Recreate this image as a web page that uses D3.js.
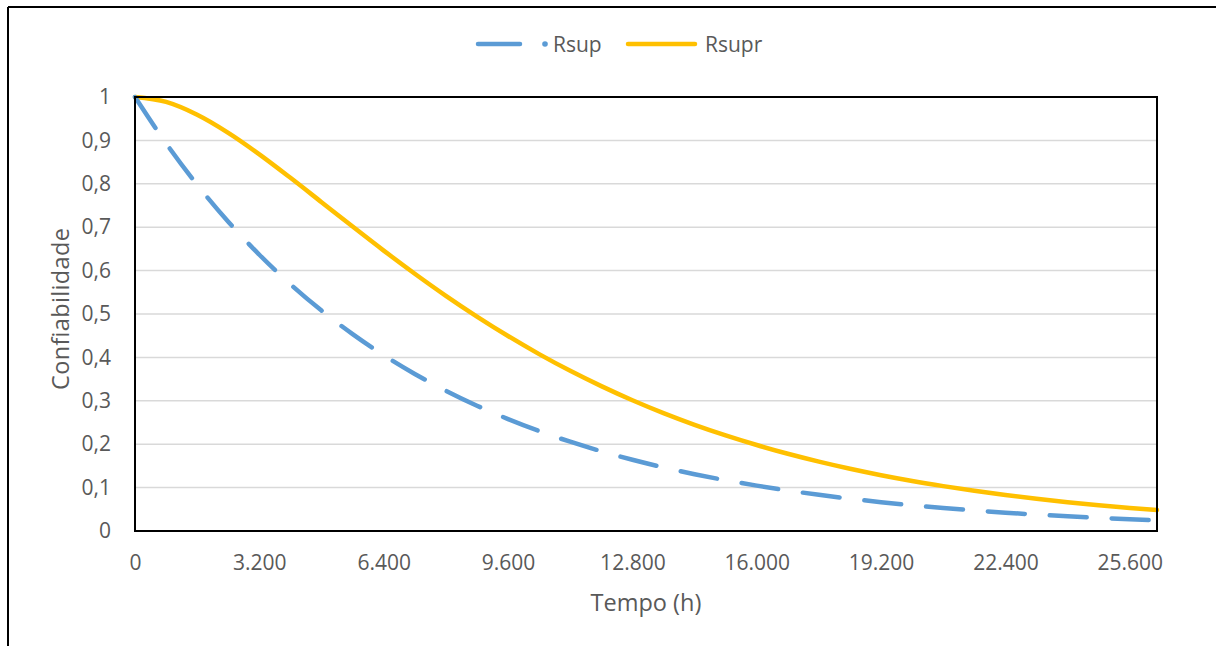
<!DOCTYPE html>
<html><head><meta charset="utf-8">
<script src="https://cdn.jsdelivr.net/npm/d3@7"></script>
<style>
body{margin:0;background:#fff;}
svg{display:block;font-family:"Open Sans",sans-serif;}
</style></head>
<body><svg id="c" width="1216" height="646"></svg>
<script>
const hours = [0,800,1600,2400,3200,4000,4800,5600,6400,7200,8000,8800,9600,10400,11200,12000,12800,13600,14400,15200,16000,16800,17600,18400,19200,20000,20800,21600,22400,23200,24000,24800,25600,26300];
const rsup = [1,0.8932,0.7978,0.7126,0.6365,0.5685,0.5078,0.4536,0.4051,0.3619,0.3232,0.2887,0.2579,0.2303,0.2057,0.1838,0.1641,0.1466,0.1309,0.1170,0.1045,0.0933,0.0834,0.0745,0.0665,0.0594,0.0531,0.0474,0.0423,0.0378,0.0338,0.0302,0.0269,0.0244];
const rsupr = [1,0.9886,0.9591,0.9174,0.8679,0.8138,0.7577,0.7014,0.6461,0.5928,0.5419,0.4941,0.4493,0.4076,0.3691,0.3338,0.3013,0.2717,0.2447,0.2203,0.1981,0.1779,0.1598,0.1434,0.1286,0.1153,0.1034,0.0926,0.0828,0.0742,0.0665,0.0595,0.0531,0.0482];
const xTicks = [0,3200,6400,9600,12800,16000,19200,22400,25600];
const yTicks = [0,0.1,0.2,0.3,0.4,0.5,0.6,0.7,0.8,0.9,1];
const seriesNames = ["Rsup","Rsupr"];
const colors = ["#5b9bd5","#ffc000"];

const svg = d3.select("#c");
// outer chart border (top and left visible)
svg.append("line").attr("x1",8).attr("x2",1216).attr("y1",7).attr("y2",7).attr("stroke","#000").attr("stroke-width",2);
svg.append("line").attr("x1",8).attr("x2",8).attr("y1",7).attr("y2",646).attr("stroke","#000").attr("stroke-width",2);

const L=135, R=1157, T=97, B=531;
const x = d3.scaleLinear().domain([0,26300]).range([L,R]);
const y = d3.scaleLinear().domain([0,1]).range([B,T]);
const txt = "#595959";
const FS = "21px";
const FT = "23.5px";

// gridlines
svg.append("g").selectAll("line").data(yTicks.filter(d=>d>0&&d<1)).join("line")
  .attr("x1",L).attr("x2",R).attr("y1",d=>y(d)).attr("y2",d=>y(d))
  .attr("stroke","#d9d9d9").attr("stroke-width",1.5);

// axes
const fmtX = d => d===0 ? "0" : d3.format(",")(d).replace(/,/g,".");
const fmtY = d => d===0 ? "0" : (d===1 ? "1" : d3.format(".1f")(d).replace(".",","));
const gx = svg.append("g").attr("transform",`translate(0,${B})`)
  .call(d3.axisBottom(x).tickValues(xTicks).tickFormat(fmtX).tickSize(0).tickPadding(24));
gx.select(".domain").remove();
gx.selectAll("text").attr("fill",txt).style("font-size",FS).style("font-family","Open Sans");
const gy = svg.append("g").attr("transform",`translate(${L},0)`)
  .call(d3.axisLeft(y).tickValues(yTicks).tickFormat(fmtY).tickSize(0).tickPadding(24));
gy.select(".domain").remove();
gy.selectAll("text").attr("fill",txt).style("font-size",FS).style("font-family","Open Sans");

// lines
const line = d3.line().curve(d3.curveMonotoneX);
svg.append("path").datum(hours.map((h,i)=>[x(h),y(rsupr[i])]))
  .attr("d",line).attr("fill","none").attr("stroke",colors[1]).attr("stroke-width",4.5).attr("stroke-linecap","round").attr("stroke-linejoin","round");
svg.append("path").datum(hours.map((h,i)=>[x(h),y(rsup[i])]))
  .attr("d",line).attr("fill","none").attr("stroke",colors[0]).attr("stroke-width",4.5)
  .attr("stroke-dasharray","37 25").attr("stroke-linecap","round").attr("stroke-linejoin","round");

// plot border
svg.append("rect").attr("x",L).attr("y",T).attr("width",R-L).attr("height",B-T)
  .attr("fill","none").attr("stroke","#000").attr("stroke-width",2);

// axis titles
svg.append("text").attr("x",646).attr("y",611).attr("text-anchor","middle")
  .attr("fill",txt).style("font-size",FT).text("Tempo (h)");
svg.append("text").attr("transform",`translate(69,309) rotate(-90)`).attr("text-anchor","middle")
  .attr("fill",txt).style("font-size",FT).attr("textLength",162).attr("lengthAdjust","spacing").text("Confiabilidade");

// legend
const lg = svg.append("g");
lg.append("line").attr("x1",478).attr("x2",520).attr("y1",44).attr("y2",44).attr("stroke",colors[0]).attr("stroke-width",4.5).attr("stroke-linecap","round");
lg.append("circle").attr("cx",545).attr("cy",44).attr("r",2.8).attr("fill",colors[0]);
lg.append("text").attr("x",553).attr("y",52).attr("fill",txt).style("font-size",FS).text(seriesNames[0]);
lg.append("line").attr("x1",628).attr("x2",695).attr("y1",44).attr("y2",44).attr("stroke",colors[1]).attr("stroke-width",4.5).attr("stroke-linecap","round");
lg.append("text").attr("x",705).attr("y",52).attr("fill",txt).style("font-size",FS).text(seriesNames[1]);
</script></body></html>
